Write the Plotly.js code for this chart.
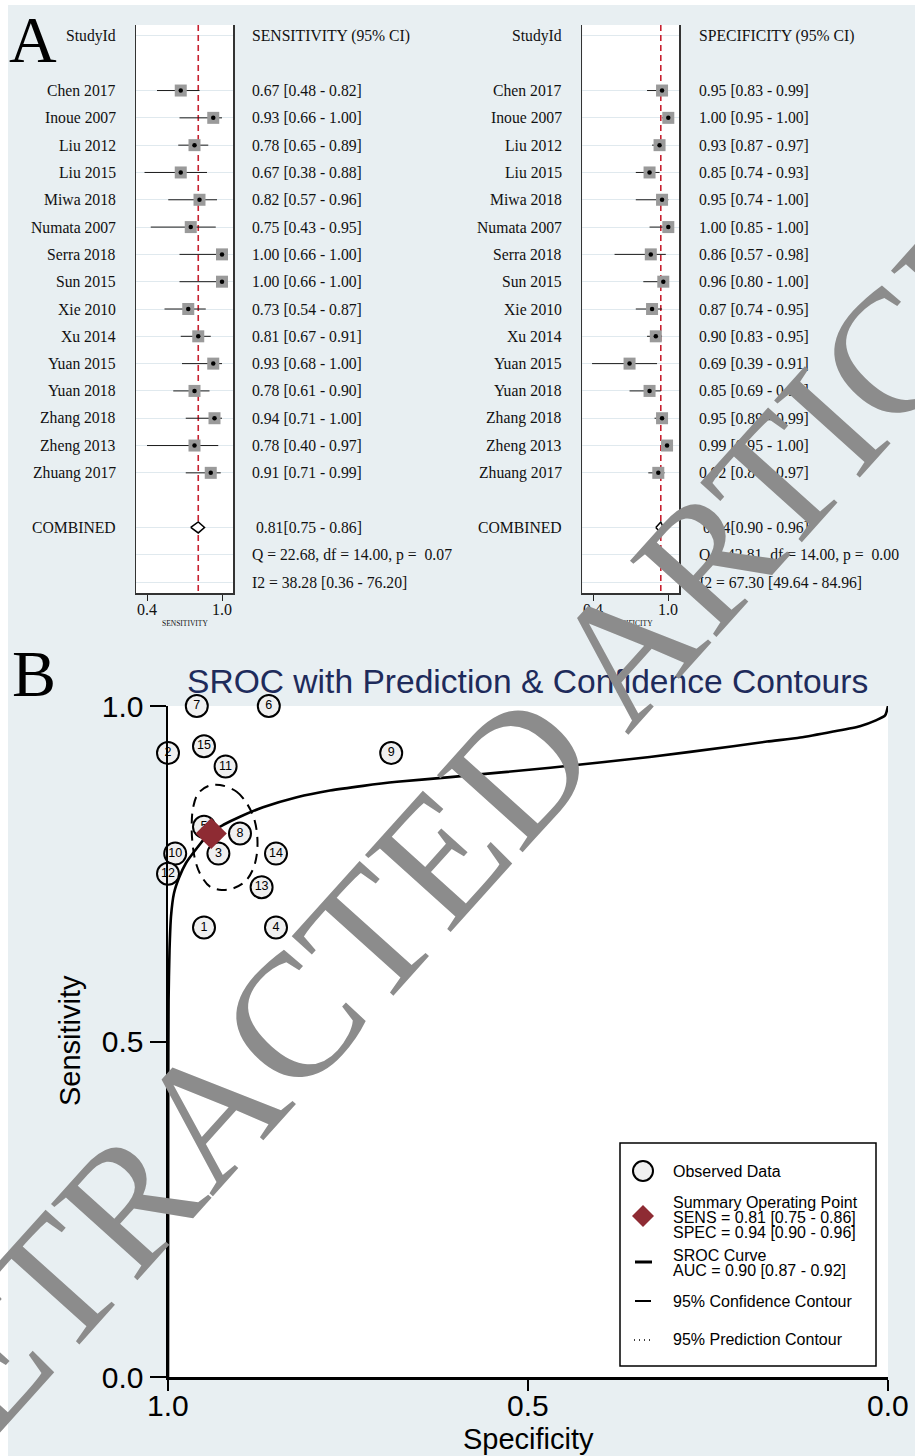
<!DOCTYPE html>
<html><head><meta charset="utf-8">
<script src="https://cdn.plot.ly/plotly-3.0.1.min.js"></script>
<style>html,body{margin:0;padding:0;background:#fff}#chart{width:915px;height:1456px}</style>
</head><body><div id="chart"></div>
<script>
// ---------------- data ----------------
const studies = ['Chen 2017','Inoue 2007','Liu 2012','Liu 2015','Miwa 2018','Numata 2007','Serra 2018','Sun 2015','Xie 2010','Xu 2014','Yuan 2015','Yuan 2018','Zhang 2018','Zheng 2013','Zhuang 2017'];
const sens   = [0.67,0.93,0.78,0.67,0.82,0.75,1.00,1.00,0.73,0.81,0.93,0.78,0.94,0.78,0.91];
const sensLo = [0.48,0.66,0.65,0.38,0.57,0.43,0.66,0.66,0.54,0.67,0.68,0.61,0.71,0.40,0.71];
const sensHi = [0.82,1.00,0.89,0.88,0.96,0.95,1.00,1.00,0.87,0.91,1.00,0.90,1.00,0.97,0.99];
const spec   = [0.95,1.00,0.93,0.85,0.95,1.00,0.86,0.96,0.87,0.90,0.69,0.85,0.95,0.99,0.92];
const specLo = [0.83,0.95,0.87,0.74,0.74,0.85,0.57,0.80,0.74,0.83,0.39,0.69,0.89,0.95,0.84];
const specHi = [0.99,1.00,0.97,0.93,1.00,1.00,0.98,1.00,0.95,0.95,0.91,0.94,0.99,1.00,0.97];
const sensPooled = [0.81,0.75,0.86];
const specPooled = [0.94,0.90,0.96];
const sensStats = ['Q = 22.68, df = 14.00, p = \u00a00.07','I2 = 38.28 [0.36 - 76.20]'];
const specStats = ['Q = 42.81, df = 14.00, p = \u00a00.00','I2 = 67.30 [49.64 - 84.96]'];
const forestTickVals = [0.4,1.0];
const forestTickText = ['0.4','1.0'];

// SROC: study shown by each numbered circle (labels 1..15)
const srocLabels = ['1','2','3','4','5','6','7','8','9','10','11','12','13','14','15'];
const srocStudies = ['Chen 2017','Inoue 2007','Liu 2012','Liu 2015','Miwa 2018','Serra 2018','Sun 2015','Xu 2014','Yuan 2015','Zheng 2013','Zhuang 2017','Numata 2007','Xie 2010','Yuan 2018','Zhang 2018'];
const srocCurveSpec = [1.0,0.9997,0.9992,0.9979,0.9958,0.9917,0.9847,0.975,0.960,0.942,0.923,0.900,0.868,0.821,0.775,0.729,0.682,0.608,0.469,0.331,0.215,0.168,0.122,0.076,0.039,0.016,0.004,0.0];
const srocCurveSens = [0.0,0.413,0.562,0.636,0.687,0.721,0.744,0.766,0.788,0.811,0.823,0.835,0.849,0.864,0.874,0.881,0.887,0.894,0.908,0.924,0.940,0.947,0.953,0.962,0.970,0.979,0.986,1.0];
const confSpec = [0.9278,0.9046,0.8907,0.8806,0.8760,0.8768,0.8824,0.8931,0.9093,0.9254,0.9417,0.9532,0.9611,0.9657,0.9671,0.9649,0.9579,0.9440,0.9278];
const confSens = [0.8823,0.8723,0.8550,0.8326,0.8052,0.7779,0.7556,0.7382,0.7283,0.7258,0.7307,0.7456,0.7656,0.7928,0.8226,0.8499,0.8699,0.8808,0.8823];
const srocTickVals = [0,0.5,1];
const srocTickText = ['0.0','0.5','1.0'];
const legendLines = {
  observed: ['Observed Data'],
  summary: ['Summary Operating Point','SENS = 0.81 [0.75 - 0.86]','SPEC = 0.94 [0.90 - 0.96]'],
  curve: ['SROC Curve','AUC = 0.90 [0.87 - 0.92]'],
  conf: ['95% Confidence Contour'],
  pred: ['95% Prediction Contour']
};

// ---------------- helpers ----------------
const W = 915, H = 1456;
const fx = x => x / W, fy = y => 1 - y / H;
const SERIF = '"Liberation Serif", "Times New Roman", serif';
const SANS = '"Liberation Sans", Arial, sans-serif';
const fmt = v => v.toFixed(2);
const studyRows = studies.map((_, i) => i + 2);
const combinedRow = 18, statRows = [19, 20];
const gridRows = [0, ...studyRows, combinedRow, ...statRows];

function forestTraces(est, lo, hi, pooled, xa, ya) {
  const ciX = [], ciY = [];
  est.forEach((_, i) => { ciX.push(lo[i], hi[i], null); ciY.push(studyRows[i], studyRows[i], null); });
  const common = {type: 'scatter', xaxis: xa, yaxis: ya, hoverinfo: 'skip', showlegend: false, cliponaxis: false};
  return [
    {...common, mode: 'lines', x: [pooled[0], pooled[0]], y: [-0.4, 20.4], line: {color: '#c8202f', width: 1.6, dash: '6px,4px'}},
    {...common, mode: 'lines', x: ciX, y: ciY, line: {color: '#1a1a1a', width: 1}},
    {...common, mode: 'markers', x: est, y: studyRows, marker: {symbol: 'square', size: 12, color: '#9a9a9a', line: {width: 0}}},
    {...common, mode: 'markers', x: est, y: studyRows, marker: {symbol: 'circle', size: 4.5, color: '#000'}},
    {...common, mode: 'lines', x: [pooled[1], pooled[0], pooled[2], pooled[0], pooled[1]],
      y: [combinedRow, combinedRow - 0.2, combinedRow, combinedRow + 0.2, combinedRow],
      fill: 'toself', fillcolor: '#fff', line: {color: '#000', width: 1.5}}
  ];
}

function forestText(est, lo, hi, pooled, stats, header, xref, yref, labelX, valueX, axisTitle, titleX) {
  const a = [];
  const font = {family: SERIF, size: 15.7, color: '#111'};
  const base = {xref: 'paper', yref: yref, showarrow: false, font: font, yanchor: 'middle'};
  a.push({...base, x: fx(labelX), y: 0, text: 'StudyId', xanchor: 'right'});
  a.push({...base, x: fx(valueX), y: 0, text: header, xanchor: 'left'});
  studies.forEach((s, i) => {
    a.push({...base, x: fx(labelX), y: studyRows[i], text: s, xanchor: 'right'});
    a.push({...base, x: fx(valueX), y: studyRows[i], text: `${fmt(est[i])} [${fmt(lo[i])} - ${fmt(hi[i])}]`, xanchor: 'left'});
  });
  a.push({...base, x: fx(labelX), y: combinedRow, text: 'COMBINED', xanchor: 'right'});
  a.push({...base, x: fx(valueX + 4), y: combinedRow, text: `${fmt(pooled[0])}[${fmt(pooled[1])} - ${fmt(pooled[2])}]`, xanchor: 'left'});
  stats.forEach((t, k) => a.push({...base, x: fx(valueX), y: statRows[k], text: t, xanchor: 'left'}));
  forestTickVals.forEach((v, k) => a.push({xref: xref, yref: 'paper', x: v, y: fy(609), xanchor: 'center', yanchor: 'middle',
    text: forestTickText[k], showarrow: false, font: {family: SERIF, size: 16, color: '#111'}}));
  a.push({xref: 'paper', yref: 'paper', x: fx(titleX), y: fy(623.5), xanchor: 'center', yanchor: 'middle', text: axisTitle,
    showarrow: false, font: {family: SERIF, size: 7.5, color: '#111'}});
  return a;
}

// ---------------- traces ----------------
const traces = [
  ...forestTraces(sens, sensLo, sensHi, sensPooled, 'x', 'y'),
  ...forestTraces(spec, specLo, specHi, specPooled, 'x2', 'y2')
];
const idx = srocStudies.map(s => studies.indexOf(s));
traces.push(
  {type: 'scatter', mode: 'lines', x: srocCurveSpec, y: srocCurveSens, xaxis: 'x3', yaxis: 'y3', line: {color: '#000', width: 2.6, shape: 'spline', smoothing: 0.6}, hoverinfo: 'skip', showlegend: false, cliponaxis: false},
  {type: 'scatter', mode: 'lines', x: confSpec, y: confSens, xaxis: 'x3', yaxis: 'y3', line: {color: '#000', width: 2, dash: '10px,7px', shape: 'spline', smoothing: 1}, hoverinfo: 'skip', showlegend: false},
  {type: 'scatter', mode: 'markers+text', x: idx.map(i => spec[i]), y: idx.map(i => sens[i]), text: srocLabels,
    textposition: 'middle center', textfont: {family: SANS, size: 12.5, color: '#000'},
    xaxis: 'x3', yaxis: 'y3', marker: {symbol: 'circle', size: 22, color: '#f0f0f0', line: {color: '#000', width: 2}},
    hoverinfo: 'skip', showlegend: false, cliponaxis: false},
  {type: 'scatter', mode: 'markers', x: [specPooled[0]], y: [sensPooled[0]], xaxis: 'x3', yaxis: 'y3',
    marker: {symbol: 'diamond', size: 24, color: '#8e2b33', line: {width: 0}}, hoverinfo: 'skip', showlegend: false, cliponaxis: false}
);

// ---------------- layout ----------------
const forestX = (x0, x1, anchor) => ({
  domain: [fx(x0), fx(x1)], anchor: anchor, range: [0.312, 1.088],
  tickvals: forestTickVals, showticklabels: false, ticks: 'outside', ticklen: 6, tickwidth: 1, tickcolor: '#222',
  showline: true, linecolor: '#333', linewidth: 1.5, showgrid: false, zeroline: false
});
const forestY = anchor => ({
  domain: [fy(593), fy(25)], anchor: anchor, range: [20.4, -0.4],
  tickvals: gridRows, showticklabels: false, ticks: '', showgrid: true, gridcolor: '#e0e9ee', gridwidth: 1,
  showline: true, mirror: true, linecolor: '#333', linewidth: 1.5, zeroline: false
});

const annotations = [
  ...forestText(sens, sensLo, sensHi, sensPooled, sensStats, 'SENSITIVITY (95% CI)', 'x', 'y', 118.3, 250, 'SENSITIVITY', 184.5),
  ...forestText(spec, specLo, specHi, specPooled, specStats, 'SPECIFICITY (95% CI)', 'x2', 'y2', 564.3, 696.7, 'SPECIFICITY', 630.8),
  {xref: 'paper', yref: 'paper', x: fx(33), y: fy(39), xanchor: 'center', yanchor: 'middle', text: 'A', showarrow: false, font: {family: SERIF, size: 66, color: '#000'}},
  {xref: 'paper', yref: 'paper', x: fx(34), y: fy(673), xanchor: 'center', yanchor: 'middle', text: 'B', showarrow: false, font: {family: SERIF, size: 66, color: '#000'}},
  {xref: 'paper', yref: 'paper', x: fx(527), y: fy(681), xanchor: 'center', yanchor: 'middle', text: 'SROC with Prediction &amp; Confidence Contours', showarrow: false, font: {family: SANS, size: 33.6, color: '#1e2b5b'}}
];
srocTickVals.forEach((v, k) => annotations.push({xref: 'x3', yref: 'paper', x: v, y: fy(1405), xanchor: 'center', yanchor: 'middle',
  text: srocTickText[k], showarrow: false, font: {family: SANS, size: 30, color: '#000'}}));
annotations.push({xref: 'paper', yref: 'paper', x: fx(528), y: fy(1439), xanchor: 'center', yanchor: 'middle', text: 'Specificity', showarrow: false, font: {family: SANS, size: 29, color: '#000'}});
annotations.push({xref: 'paper', yref: 'paper', x: fx(70), y: fy(1041), xanchor: 'center', yanchor: 'middle', text: 'Sensitivity', textangle: -90, showarrow: false, font: {family: SANS, size: 29, color: '#000'}});

// legend texts
const legFont = {family: SANS, size: 16, color: '#000'};
const legText = (t, y) => ({xref: 'paper', yref: 'paper', x: fx(671), y: fy(y), xanchor: 'left', yanchor: 'middle', text: t, showarrow: false, font: legFont});
annotations.push(legText(legendLines.observed[0], 1171));
legendLines.summary.forEach((t, k) => annotations.push(legText(t, 1202 + 15 * k)));
legendLines.curve.forEach((t, k) => annotations.push(legText(t, 1255 + 15 * k)));
annotations.push(legText(legendLines.conf[0], 1301));
annotations.push(legText(legendLines.pred[0], 1339));

// watermark
annotations.push({xref: 'paper', yref: 'paper', x: fx(469), y: fy(822), xanchor: 'center', yanchor: 'middle',
  text: 'RETRACTED ARTICLE', textangle: -48, showarrow: false,
  font: {family: SERIF, size: 176, color: '#8c8c8c'}});

const shapes = [
  {type: 'rect', xref: 'paper', yref: 'paper', x0: 0, x1: 1, y0: fy(5), y1: 1, fillcolor: '#fff', line: {width: 0}, layer: 'below'},
  {type: 'rect', xref: 'paper', yref: 'paper', x0: 0, x1: fx(8), y0: 0, y1: 1, fillcolor: '#fff', line: {width: 0}, layer: 'below'},
  {type: 'rect', xref: 'paper', yref: 'paper', x0: fx(620), x1: fx(876), y0: fy(1366), y1: fy(1143), fillcolor: '#fff', line: {color: '#000', width: 1.5}, layer: 'above'},
  {type: 'circle', xref: 'paper', yref: 'paper', x0: fx(633), x1: fx(653), y0: fy(1181), y1: fy(1161), fillcolor: '#f0f0f0', line: {color: '#000', width: 2}},
  {type: 'path', xref: 'paper', yref: 'paper', path: `M ${fx(632)} ${fy(1216)} L ${fx(643)} ${fy(1205)} L ${fx(654)} ${fy(1216)} L ${fx(643)} ${fy(1227)} Z`, fillcolor: '#8e2b33', line: {width: 0}},
  {type: 'line', xref: 'paper', yref: 'paper', x0: fx(635), x1: fx(652), y0: fy(1262), y1: fy(1262), line: {color: '#000', width: 3}},
  {type: 'line', xref: 'paper', yref: 'paper', x0: fx(635), x1: fx(651), y0: fy(1301), y1: fy(1301), line: {color: '#000', width: 2}},
  {type: 'line', xref: 'paper', yref: 'paper', x0: fx(634), x1: fx(652), y0: fy(1340), y1: fy(1340), line: {color: '#000', width: 1.5, dash: '1px,4px'}}
];

const layout = {
  width: W, height: H, margin: {l: 0, r: 0, t: 0, b: 0},
  paper_bgcolor: '#e8eff2', plot_bgcolor: '#ffffff', showlegend: false,
  xaxis: forestX(136, 233, 'y'),
  yaxis: forestY('x'),
  xaxis2: forestX(582.3, 679.3, 'y2'),
  yaxis2: forestY('x2'),
  xaxis3: {domain: [fx(168), fx(888)], anchor: 'y3', range: [1, 0], tickvals: srocTickVals, showticklabels: false,
    ticks: 'outside', ticklen: 11, tickwidth: 2, tickcolor: '#000', showline: true, linecolor: '#000', linewidth: 2.5,
    showgrid: false, zeroline: false},
  yaxis3: {domain: [fy(1377), fy(706)], anchor: 'x3', range: [0, 1], tickvals: srocTickVals, ticktext: srocTickText,
    ticks: 'outside', ticklen: 16, tickwidth: 2, tickcolor: '#000', showline: true, linecolor: '#000', linewidth: 2.5,
    showgrid: false, zeroline: false, tickfont: {family: SANS, size: 30, color: '#000'}},
  annotations: annotations, shapes: shapes
};

Plotly.newPlot('chart', traces, layout, {staticPlot: true, displayModeBar: false});
</script>
</body></html>
